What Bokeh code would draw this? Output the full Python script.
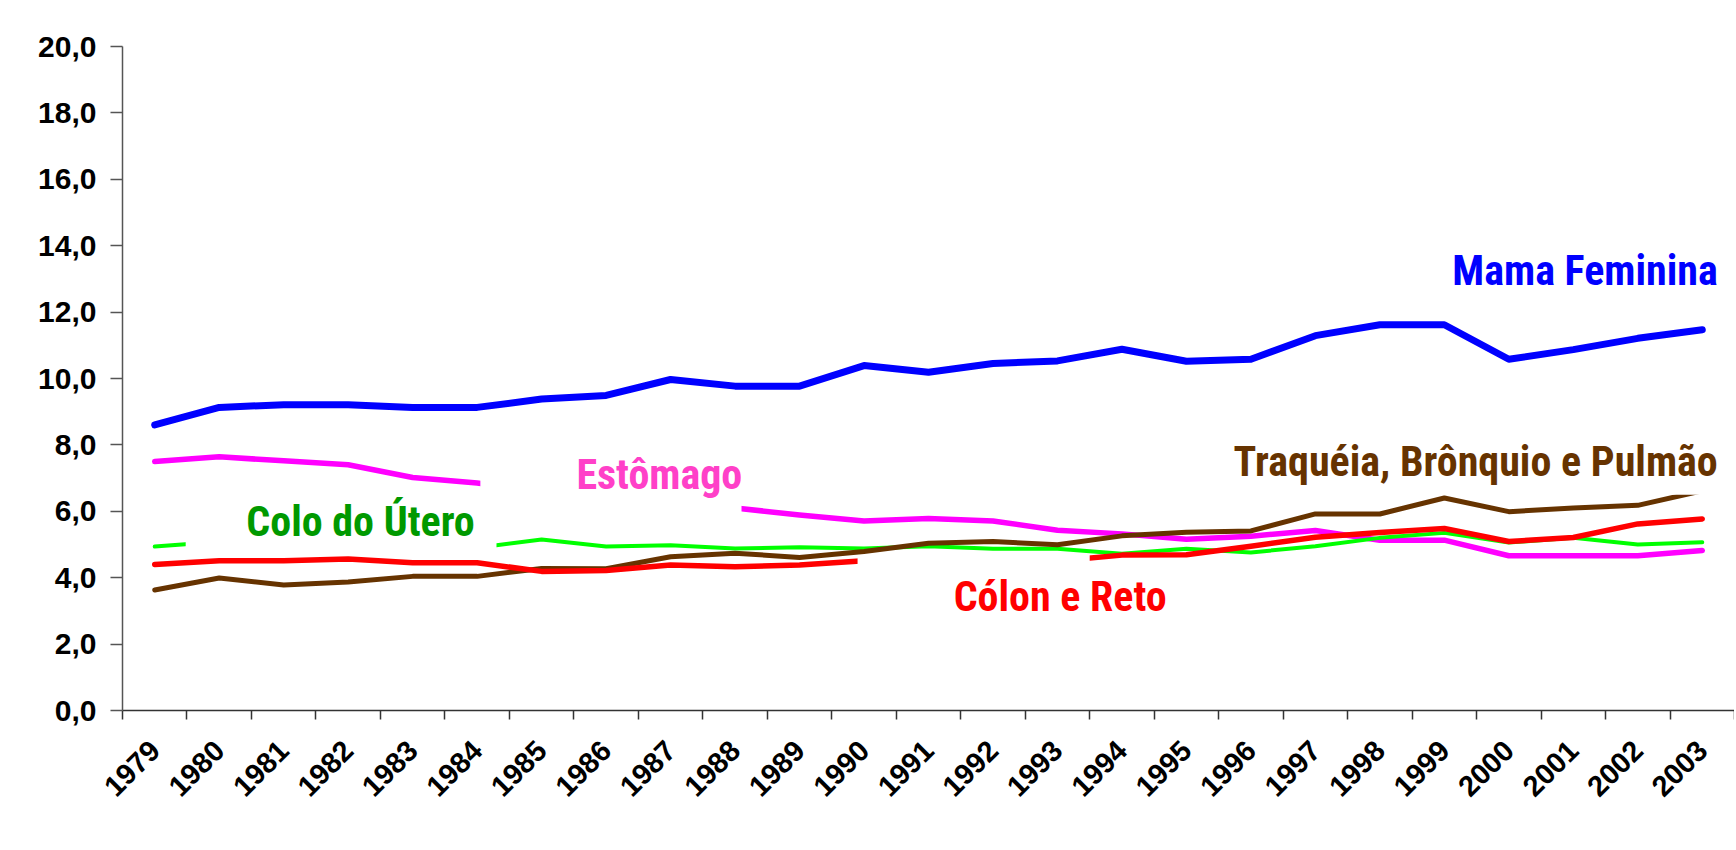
import math
from bokeh.plotting import figure
from bokeh.models import FixedTicker, Label, BoxAnnotation, Range1d
from bokeh.embed import file_html
from bokeh.resources import INLINE

# ---- data ----
years = list(range(1979, 2004))
mama_feminina = [8.60, 9.13, 9.21, 9.21, 9.13, 9.13, 9.38, 9.49, 9.97, 9.77, 9.77, 10.39, 10.19,
                 10.45, 10.53, 10.88, 10.52, 10.58, 11.29, 11.62, 11.62, 10.58, 10.87, 11.21, 11.47]
estomago = [7.50, 7.64, 7.52, 7.40, 7.02, 6.85, 6.60, 6.45, 6.30, 6.10, 5.89, 5.71, 5.78,
            5.71, 5.43, 5.32, 5.16, 5.25, 5.42, 5.13, 5.13, 4.66, 4.66, 4.66, 4.82]
colo_utero = [4.94, 5.08, 4.95, 5.00, 4.95, 4.90, 5.15, 4.94, 4.98, 4.88, 4.92, 4.88, 4.95,
              4.87, 4.87, 4.72, 4.87, 4.76, 4.95, 5.20, 5.35, 5.06, 5.20, 5.00, 5.07]
colon_reto = [4.40, 4.51, 4.51, 4.56, 4.45, 4.45, 4.19, 4.22, 4.38, 4.33, 4.38, 4.51, 4.45,
              4.45, 4.50, 4.68, 4.69, 4.95, 5.22, 5.36, 5.48, 5.09, 5.21, 5.62, 5.77]
traqueia = [3.63, 3.99, 3.78, 3.87, 4.04, 4.04, 4.28, 4.27, 4.63, 4.74, 4.61, 4.79, 5.04,
            5.09, 4.99, 5.26, 5.37, 5.41, 5.92, 5.92, 6.40, 5.99, 6.10, 6.18, 6.62]
y_ticks = [0, 2, 4, 6, 8, 10, 12, 14, 16, 18, 20]
y_tick_labels = ["0,0", "2,0", "4,0", "6,0", "8,0", "10,0", "12,0", "14,0", "16,0", "18,0", "20,0"]

# ---- figure ----
p = figure(width=1734, height=842, output_backend="svg", toolbar_location=None,
           x_range=Range1d(1978.5, 2003.5), y_range=Range1d(0, 20),
           min_border_left=122, min_border_right=0, min_border_top=46, min_border_bottom=132)
p.outline_line_color = None
p.grid.visible = False
p.background_fill_color = "white"
p.border_fill_color = "white"

xa = p.xaxis[0]
xa.ticker = FixedTicker(ticks=years, minor_ticks=[y - 0.5 for y in years] + [years[-1] + 0.5])
xa.major_tick_out = 0
xa.major_tick_in = 0
xa.minor_tick_out = 9
xa.minor_tick_in = 0
xa.minor_tick_line_color = "#333333"
xa.minor_tick_line_width = 1.5
xa.axis_line_color = "#333333"
xa.axis_line_width = 1.5
xa.major_label_orientation = math.pi / 4
xa.major_label_text_font = "Liberation Sans"
xa.major_label_text_font_style = "bold"
xa.major_label_text_font_size = "29px"
xa.major_label_text_color = "black"
xa.major_label_standoff = 26

ya = p.yaxis[0]
ya.ticker = FixedTicker(ticks=y_ticks)
ya.major_label_overrides = {t: s for t, s in zip(y_ticks, y_tick_labels)}
ya.major_tick_out = 12
ya.major_tick_in = 0
ya.minor_tick_line_color = None
ya.major_tick_line_color = "#555555"
ya.major_tick_line_width = 1.5
ya.axis_line_color = "#555555"
ya.axis_line_width = 1.5
ya.major_label_text_font = "Liberation Sans"
ya.major_label_text_font_style = "bold"
ya.major_label_text_font_size = "30px"
ya.major_label_text_color = "black"
ya.major_label_standoff = 14

# ---- lines ----
common = dict(line_cap="round", line_join="round")
p.line(years, estomago, line_color="#FF00FF", line_width=5.5, **common)
p.line(years, colo_utero, line_color="#00FF00", line_width=4, **common)
p.line(years, traqueia, line_color="#663300", line_width=5, **common)
p.line(years, colon_reto, line_color="#FF0000", line_width=5.5, **common)
p.line(years, mama_feminina, line_color="#0000FF", line_width=7, **common)

# ---- label boxes (white text-box backgrounds) ----
boxes = [
    (1979.48, 1984.30, 4.75, 6.60),   # Colo do Útero
    (1984.05, 1988.10, 5.50, 8.20),   # Estômago
    (1989.90, 1993.50, 2.60, 4.68),   # Cólon e Reto
    (1995.50, 2003.50, 6.50, 7.80),   # Traquéia
]
for l, r, b, t in boxes:
    p.add_layout(BoxAnnotation(left=l, right=r, bottom=b, top=t, fill_color="white",
                               fill_alpha=1.0, line_color=None))

labels = [
    ("Mama Feminina", 2003.24, 13.25, "right", "#0000FF"),
    ("Estômago", 1985.54, 7.11, "left", "#FF40C8"),
    ("Colo do Útero", 1980.42, 5.69, "left", "#009900"),
    ("Cólon e Reto", 1991.39, 3.43, "left", "#FF0000"),
    ("Traquéia, Brônquio e Pulmão", 2003.24, 7.50, "right", "#663300"),
]
for txt, x, y, align, col in labels:
    p.add_layout(Label(x=x, y=y, text=txt, text_align=align, text_baseline="alphabetic",
                       text_font="Roboto Condensed", text_font_style="bold",
                       text_font_size="42px", text_color=col))

open("out.html", "w").write(file_html(p, INLINE))
